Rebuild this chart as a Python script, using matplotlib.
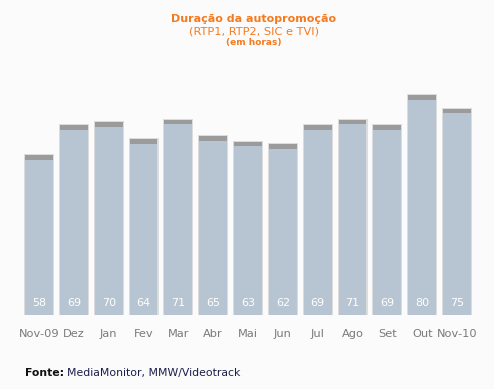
import matplotlib
matplotlib.use("Agg")
import matplotlib.pyplot as plt
import numpy as np

plt.rcParams.update({"font.family": "DejaVu Sans"})

months = ["Nov-09", "Dez", "Jan", "Fev", "Mar", "Abr", "Mai",
          "Jun", "Jul", "Ago", "Set", "Out", "Nov-10"]
hours = [58, 69, 70, 64, 71, 65, 63, 62, 69, 71, 69, 80, 75]

BG = "#fbfbfb"
BAR = "#b7c4d1"
CAP = "#9b9b9b"
ORANGE = "#f47a20"

fig = plt.figure(figsize=(4.94, 3.89), dpi=100, facecolor=BG)
ax = fig.add_axes([0, 0, 1, 1])
ax.set_facecolor(BG)
ax.set_xlim(-1.12, 13.06)
ax.set_ylim(-26.9, 114.5)
ax.axis("off")

x = np.arange(len(months))
vals = np.array(hours)
# soft shadow around the bars
ax.bar(x, vals + 0.4, 0.86, color="#dcdcdc", zorder=1)
ax.bar(x, vals, 0.8, color=BAR, zorder=2)
# grey cap on top of each bar
ax.bar(x, 1.7, 0.8, bottom=vals - 1.7, color=CAP, zorder=3)

for xi, v in zip(x, vals):
    ax.text(xi, 4.5, f"{v}", ha="center", va="center", color="white", fontsize=8, zorder=4)
for xi, m in zip(x, months):
    ax.text(xi, -7, m, ha="center", va="center", color="#7a7a7a", fontsize=8.2)

cx = 254 / 494
fig.text(cx, 1 - 19 / 389, "Duração da autopromoção", ha="center", va="center",
         color=ORANGE, fontsize=8, fontweight="bold")
fig.text(cx, 1 - 32 / 389, "(RTP1, RTP2, SIC e TVI)", ha="center", va="center",
         color=ORANGE, fontsize=8.2)
fig.text(cx, 1 - 43 / 389, "(em horas)", ha="center", va="center",
         color=ORANGE, fontsize=6.5, fontweight="bold")

t = fig.text(25 / 494, 1 - 373 / 389, "Fonte:", ha="left", va="center",
             color="#111111", fontsize=7.8, fontweight="bold")
fig.canvas.draw()
bb = t.get_window_extent()
fig.text((bb.x1 + 3) / 494, 1 - 373 / 389, "MediaMonitor, MMW/Videotrack", ha="left",
         va="center", color="#1c1c4c", fontsize=7.8)

fig.savefig("out.png", dpi=100, facecolor=BG)
